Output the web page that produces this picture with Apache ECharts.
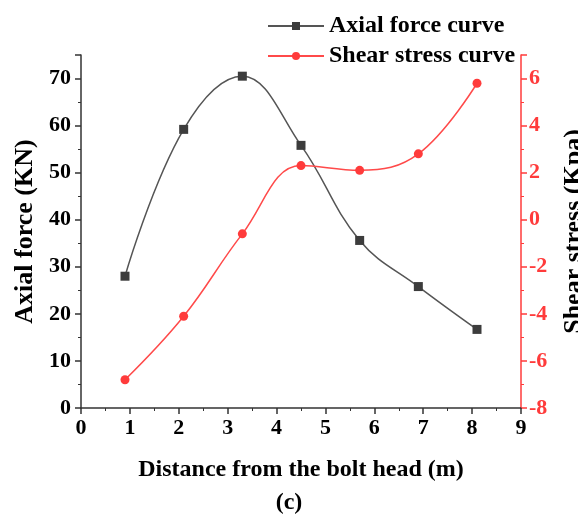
<!DOCTYPE html>
<html>
<head>
<meta charset="utf-8">
<script src="https://cdn.jsdelivr.net/npm/echarts@6/dist/echarts.min.js"></script>
<style>
  html, body { margin: 0; padding: 0; background: #fff; }
  #chart { width: 578px; height: 520px; }
</style>
</head>
<body>
<div id="chart"></div>
<script>
// data
const distance = [0.9, 2.1, 3.3, 4.5, 5.7, 6.9, 8.1];
const axialForce = [28, 59.2, 70.5, 55.8, 35.6, 25.8, 16.7];
const shearStress = [-6.8, -4.1, -0.6, 2.3, 2.1, 2.8, 5.8];

const font = 'Liberation Serif';
const red = '#ff3b3b';
const pairs = (ys) => distance.map((x, i) => [x, ys[i]]);
const boldText = (size, color) => ({ fontFamily: font, fontSize: size, fontWeight: 700, color: color || '#000' });

var myChart = echarts.init(document.getElementById('chart'));
myChart.setOption({
    animation: false,
    textStyle: { fontFamily: font, fontWeight: 700 },
    title: {
        text: '(c)',
        left: 'center',
        top: 486,
        textStyle: boldText(24)
    },
    legend: {
        orient: 'vertical',
        left: 262,
        top: 9,
        itemWidth: 56,
        itemHeight: 10,
        itemGap: 6,
        textStyle: boldText(24),
        data: ['Axial force curve', 'Shear stress curve']
    },
    grid: { left: 81, right: 57, top: 55, bottom: 112, outerBoundsMode: 'none' },
    xAxis: {
        type: 'value',
        min: 0, max: 9, interval: 1,
        name: 'Distance from the bolt head (m)',
        nameLocation: 'middle',
        nameGap: 50,
        nameTextStyle: boldText(24),
        axisLine: { lineStyle: { color: '#333', width: 1.5 } },
        axisTick: { length: 6, lineStyle: { color: '#333', width: 1.5 } },
        minorTick: { show: true, splitNumber: 2, length: 3, lineStyle: { color: '#333' } },
        axisLabel: Object.assign(boldText(22), { margin: 9 }),
        splitLine: { show: false }
    },
    yAxis: [{
        type: 'value',
        min: 0, max: 75, interval: 10,
        name: 'Axial force (KN)',
        nameLocation: 'middle',
        nameGap: 32,
        nameTextStyle: boldText(26),
        axisLine: { show: true, lineStyle: { color: '#333', width: 1.5 } },
        axisTick: { length: 6, lineStyle: { color: '#333', width: 1.5 } },
        minorTick: { show: true, splitNumber: 2, length: 3, lineStyle: { color: '#333' } },
        axisLabel: Object.assign(boldText(22), { margin: 10, showMaxLabel: false }),
        splitLine: { show: false }
    }, {
        type: 'value',
        position: 'right',
        min: -8, max: 7, interval: 2,
        name: 'Shear stress (Kpa)',
        nameLocation: 'middle',
        nameGap: 40,
        nameTextStyle: boldText(26),
        axisLine: { show: true, lineStyle: { color: red, width: 1.5 } },
        axisTick: { length: 6, lineStyle: { color: red, width: 1.5 } },
        minorTick: { show: true, splitNumber: 2, length: 3, lineStyle: { color: red } },
        axisLabel: Object.assign(boldText(22, red), { margin: 8, showMaxLabel: false }),
        splitLine: { show: false }
    }],
    series: [{
        name: 'Axial force curve',
        type: 'line',
        yAxisIndex: 0,
        smooth: 0.4,
        symbol: 'rect',
        symbolSize: 9,
        data: pairs(axialForce),
        itemStyle: { color: '#3c3c3c' },
        lineStyle: { color: '#555', width: 1.5 }
    }, {
        name: 'Shear stress curve',
        type: 'line',
        yAxisIndex: 1,
        smooth: 0.4,
        symbol: 'circle',
        symbolSize: 9,
        data: pairs(shearStress),
        itemStyle: { color: red },
        lineStyle: { color: '#ff4a4a', width: 1.5 }
    }]
});
</script>
</body>
</html>
